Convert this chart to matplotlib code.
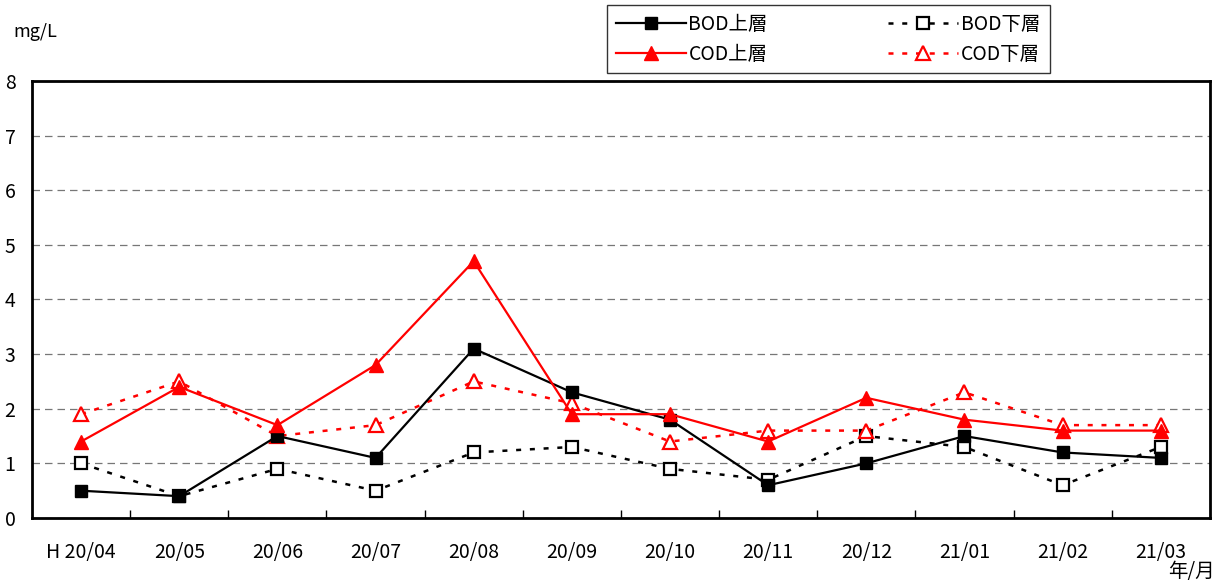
import matplotlib.pyplot as plt
import numpy as np

plt.rcParams['font.family'] = ['Noto Sans CJK JP', 'DejaVu Sans']

months = ['H 20/04', '20/05', '20/06', '20/07', '20/08', '20/09',
          '20/10', '20/11', '20/12', '21/01', '21/02', '21/03']
bod_upper = [0.5, 0.4, 1.5, 1.1, 3.1, 2.3, 1.8, 0.6, 1.0, 1.5, 1.2, 1.1]
bod_lower = [1.0, 0.4, 0.9, 0.5, 1.2, 1.3, 0.9, 0.7, 1.5, 1.3, 0.6, 1.3]
cod_upper = [1.4, 2.4, 1.7, 2.8, 4.7, 1.9, 1.9, 1.4, 2.2, 1.8, 1.6, 1.6]
cod_lower = [1.9, 2.5, 1.5, 1.7, 2.5, 2.1, 1.4, 1.6, 1.6, 2.3, 1.7, 1.7]

x = np.arange(len(months))

fig = plt.figure(figsize=(12.23, 5.86), dpi=100)
ax = fig.add_axes([0.0262, 0.116, 0.963, 0.746])

l1, = ax.plot(x, bod_upper, color='black', lw=1.6, marker='s', ms=9,
              mfc='black', mec='black', label='BOD上層', zorder=4)
l2, = ax.plot(x, bod_lower, color='black', lw=1.8, ls=(0, (2, 3.5)), marker='s', ms=9,
              mfc='white', mec='black', mew=1.6, label='BOD下層', zorder=3)
l3, = ax.plot(x, cod_upper, color='red', lw=1.6, marker='^', ms=10,
              mfc='red', mec='red', label='COD上層', zorder=4)
l4, = ax.plot(x, cod_lower, color='red', lw=1.8, ls=(0, (2, 3.5)), marker='^', ms=10,
              mfc='white', mec='red', mew=1.6, label='COD下層', zorder=3)

ax.set_xlim(-0.5, len(months) - 0.5)
ax.set_ylim(0, 8)
ax.set_yticks(range(0, 9))
ax.yaxis.grid(True, ls=(0, (6, 4)), color='#777777', lw=0.9)
ax.set_axisbelow(True)

ax.set_xticks(x)
ax.set_xticklabels(months, fontsize=14)
ax.set_xticks(np.arange(0.5, len(months) - 0.5), minor=True)
ax.tick_params(axis='x', which='major', length=0, pad=17)
ax.tick_params(axis='x', which='minor', direction='in', length=6, width=1)
ax.tick_params(axis='y', length=0, labelsize=14, pad=12)

for s in ax.spines.values():
    s.set_linewidth(2)

fig.text(0.011, 0.945, 'mg/L', fontsize=13, ha='left', va='center')
fig.text(0.993, 0.025, '年/月', fontsize=14, ha='right', va='center')

# column-wise fill: upper layers in column 1, lower layers in column 2
leg = ax.legend([l1, l3, l2, l4], ['BOD上層', 'COD上層', 'BOD下層', 'COD下層'],
                loc='upper left', bbox_to_anchor=(0.488, 1.027, 0.376, 0.146),
                ncol=2, mode='expand', fontsize=14, frameon=True, fancybox=False,
                edgecolor='black', handlelength=3.6, borderpad=0.45,
                labelspacing=0.45, columnspacing=1.5, handletextpad=0.15,
                borderaxespad=0)
leg.get_frame().set_linewidth(1)

fig.savefig('out.png', dpi=100)
